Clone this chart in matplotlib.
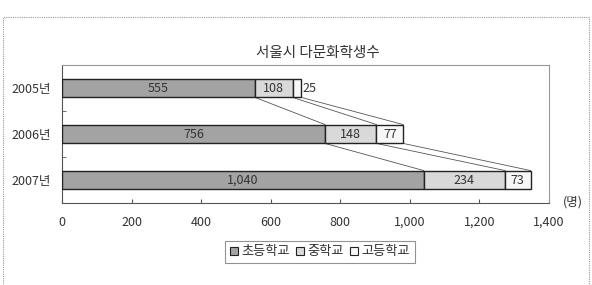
import matplotlib
matplotlib.use("Agg")
import matplotlib.pyplot as plt
from matplotlib.patches import Patch, Rectangle
from matplotlib.lines import Line2D

plt.rcParams['font.family'] = ['Noto Sans CJK KR', 'DejaVu Sans']

years = ["2005년", "2006년", "2007년"]
series_names = ["초등학교", "중학교", "고등학교"]
elementary = [555, 756, 1040]
middle = [108, 148, 234]
high = [25, 77, 73]
colors = ["#a3a3a3", "#d9d9d9", "#f7f7f7"]
xticks = [0, 200, 400, 600, 800, 1000, 1200, 1400]
title = "서울시 다문화학생수"

fs = 9

fig = plt.figure(figsize=(5.92, 2.85), dpi=100)
ax = fig.add_axes([62/592, 1 - 203/285, (549-62)/592, (203-65)/285])

# outer dotted border
fig.patches.append(Rectangle((3/592, -0.02), 586/592, 1 - 17/285 + 0.02,
                             transform=fig.transFigure, fill=False,
                             edgecolor="#9a9a9a", linestyle=(0, (1, 1)), linewidth=0.8))

ypos = list(range(len(years)))
h = 0.41
data = [elementary, middle, high]
lefts = [0] * len(years)
bounds = []
for i, (vals, col) in enumerate(zip(data, colors)):
    ax.barh(ypos, vals, left=lefts, height=h, color=col, edgecolor="#222222", linewidth=1.0, zorder=3)
    for j, v in enumerate(vals):
        cx = lefts[j] + v / 2
        label = f"{v:,}"
        if v < 40:
            ax.text(lefts[j] + v + 4, ypos[j], label, ha="left", va="center", fontsize=fs, color="#333333", zorder=4)
        else:
            ax.text(cx, ypos[j], label, ha="center", va="center", fontsize=fs, color="#333333", zorder=4)
    lefts = [l + v for l, v in zip(lefts, vals)]
    bounds.append(list(lefts))

# series connecting lines
for b in bounds:
    for j in range(len(years) - 1):
        ax.add_line(Line2D([b[j], b[j + 1]], [ypos[j] + h / 2, ypos[j + 1] - h / 2],
                           color="#555555", linewidth=0.6, zorder=2))

ax.set_xlim(0, 1400)
ax.set_ylim(2.5, -0.5)
ax.set_xticks(xticks)
ax.set_xticklabels([f"{t:,}" for t in xticks], fontsize=fs, color="#333333")
ax.set_yticks(ypos)
ax.set_yticklabels(years, fontsize=fs, color="#333333")
ax.set_yticks([0.5, 1.5], minor=True)
ax.tick_params(axis="x", direction="in", length=3, pad=9, color="#555555")
ax.tick_params(axis="y", which="major", length=0, pad=8)
ax.tick_params(axis="y", which="minor", direction="in", length=3, color="#555555")
for s in ax.spines.values():
    s.set_color("#999999")
    s.set_linewidth(0.8)
ax.spines["bottom"].set_color("#555555")
ax.spines["left"].set_color("#555555")

fig.text(318/592, 1 - 53/285, title, ha="center", va="center", fontsize=10.5, color="#333333")
fig.text(573/592, 1 - 202/285, "(명)", ha="center", va="center", fontsize=fs, color="#333333")

handles = [Patch(facecolor=c, edgecolor="#222222", linewidth=0.8) for c in colors]
leg = fig.legend(handles, series_names, loc="center", bbox_to_anchor=(320/592, 1 - 252/285),
                 ncol=3, fontsize=9.5, frameon=True, fancybox=False, handlelength=0.6,
                 handleheight=0.6, handletextpad=0.25, columnspacing=0.5, borderpad=0.35)
leg.get_frame().set_edgecolor("#777777")
leg.get_frame().set_linewidth(0.8)
for t in leg.get_texts():
    t.set_color("#333333")

fig.savefig("out.png", dpi=100)
